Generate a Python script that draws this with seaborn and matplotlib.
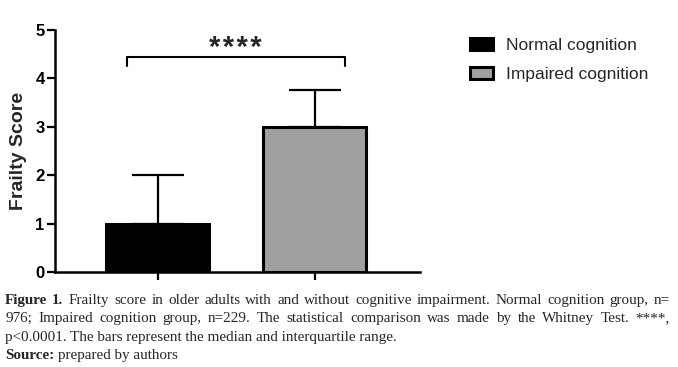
import matplotlib
matplotlib.use("Agg")
import matplotlib.pyplot as plt
import seaborn as sns

sns.set_style("ticks")
plt.rcParams['font.family'] = ['Liberation Sans', 'DejaVu Sans']

# ==========================================
# DATA
# ==========================================
groups = ["Normal cognition", "Impaired cognition"]
medians = [1.0, 3.0]
q3_upper = [2.0, 3.75]
bar_colors = ["#000000", "#a0a0a0"]
y_ticks = [0, 1, 2, 3, 4, 5]
sig_label = "*\u200a*\u200a*\u200a*"

caption_lines = [
    [("Figure", True), ("1.", True), ("Frailty", False), ("score", False), ("in", False), ("older", False),
     ("adults", False), ("with", False), ("and", False), ("without", False), ("cognitive", False),
     ("impairment.", False), ("Normal", False), ("cognition", False), ("group,", False), ("n=", False)],
    [("976;", False), ("Impaired", False), ("cognition", False), ("group,", False), ("n=229.", False),
     ("The", False), ("statistical", False), ("comparison", False), ("was", False), ("made", False),
     ("by", False), ("the", False), ("Whitney", False), ("Test.", False), ("****,", False)],
    [("p<0.0001. The bars represent the median and interquartile range.", False)],
    [("Source:", True), ("prepared by authors", False)],
]
justify = [True, True, False, False]

# ==========================================
# FIGURE
# ==========================================
W, H = 678, 367
fig = plt.figure(figsize=(W / 100, H / 100), dpi=100)
ax = fig.add_axes([55 / W, 1 - 272 / H, 365 / W, 242 / H])

sns.barplot(x=groups, y=medians, hue=groups, palette=bar_colors, width=0.656,
            edgecolor="black", linewidth=2.2, legend=True, ax=ax)

# upper IQR error bars
xs = [p.get_x() + p.get_width() / 2 for p in ax.patches[:len(groups)]]
err = [[0] * len(groups), [u - m for u, m in zip(q3_upper, medians)]]
ax.errorbar(xs, medians, yerr=err, fmt="none", ecolor="black", elinewidth=1.6,
            capsize=19, capthick=1.6, zorder=1)

ax.set_xlim(-0.656, 1.67)
ax.set_ylim(0, 5)
ax.set_yticks(y_ticks)
ax.set_xticks(range(len(groups)))
ax.set_xticklabels([])
ax.set_xlabel("")
ax.set_ylabel("Frailty Score", fontsize=14, fontweight="bold", labelpad=6)
for lbl in ax.get_yticklabels():
    lbl.set_fontweight("bold")
    lbl.set_fontsize(12)
ax.tick_params(axis="y", length=6, width=1.6, pad=1.5, colors="black")
ax.tick_params(axis="x", length=6, width=1.6, colors="black")
sns.despine(ax=ax)
for side in ["left", "bottom"]:
    ax.spines[side].set_linewidth(1.8)
    ax.spines[side].set_color("black")

# significance bracket
bx0, bx1, by, btick = -0.2, 1.19, 4.44, 4.25
ax.plot([bx0, bx0, bx1, bx1], [btick, by, by, btick], color="black", lw=1.5, clip_on=False)
ax.text((bx0 + bx1) / 2, 4.46, sig_label, ha="center", va="baseline",
        fontsize=21, fontweight="bold")

# legend
handles, labels = ax.get_legend_handles_labels()
ax.legend_.remove()
leg = fig.legend(handles, labels, loc="upper left", bbox_to_anchor=(470 / W, 1 - 38 / H),
                 frameon=False, fontsize=12.5, handlelength=1.3, handleheight=0.7,
                 handletextpad=0.8, labelspacing=0.8, borderpad=0, borderaxespad=0)
for h in leg.legend_handles:
    h.set_edgecolor("black")
    h.set_linewidth(2.2)

# caption (justified like the journal layout)
renderer = fig.canvas.get_renderer()
x_left, x_right = 5, 670
baselines = [304, 322.3, 340.6, 359]
for line, do_just, base in zip(caption_lines, justify, baselines):
    texts = []
    for word, bold in line:
        t = fig.text(0, 1 - base / H, word, fontsize=10.9, va="baseline", ha="left",
                     family=["Liberation Serif", "DejaVu Serif"],
                     fontweight="bold" if bold else "normal")
        texts.append(t)
    widths = [t.get_window_extent(renderer).width for t in texts]
    if do_just and len(texts) > 1:
        gap = (x_right - x_left - sum(widths)) / (len(texts) - 1)
    else:
        gap = 3.8
    x = x_left
    for t, w in zip(texts, widths):
        t.set_x(x / W)
        x += w + gap

fig.savefig("out.png", dpi=100)
